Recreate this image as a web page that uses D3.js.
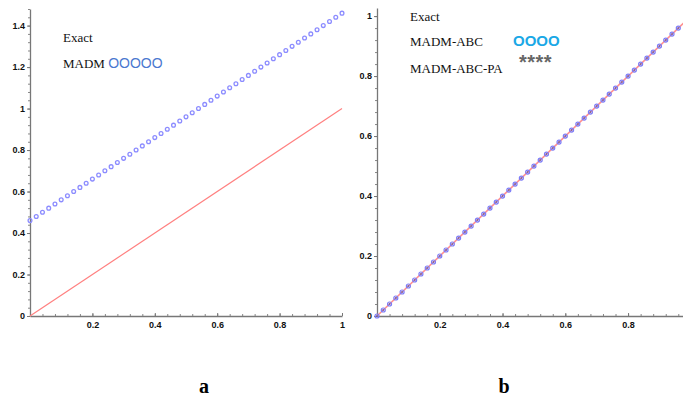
<!DOCTYPE html>
<html>
<head>
<meta charset="utf-8">
<script src="https://cdn.jsdelivr.net/npm/d3@7"></script>
<style>
  body { margin: 0; background: #fff; }
  .tick text { font-family: "Liberation Sans", Arial, sans-serif; font-weight: bold; font-size: 9px; fill: #111; }
  .lbl { font-family: "Liberation Serif", "Times New Roman", serif; font-size: 13px; fill: #111; }
</style>
</head>
<body>
<div class="chart"></div>
<script>
// panel a
let exactAX = [0, 1];
let exactAY = [0, 1];
let madmX = [0, 0.02, 0.04, 0.06, 0.08, 0.1, 0.12, 0.14, 0.16, 0.18, 0.2, 0.22, 0.24, 0.26, 0.28, 0.3, 0.32, 0.34, 0.36, 0.38,
  0.4, 0.42, 0.44, 0.46, 0.48, 0.5, 0.52, 0.54, 0.56, 0.58, 0.6, 0.62, 0.64, 0.66, 0.68, 0.7, 0.72, 0.74, 0.76, 0.78,
  0.8, 0.82, 0.84, 0.86, 0.88, 0.9, 0.92, 0.94, 0.96, 0.98, 1];
let madmY = [0.46, 0.48, 0.5, 0.52, 0.54, 0.56, 0.58, 0.6, 0.62, 0.64, 0.66, 0.68, 0.7, 0.72, 0.74, 0.76, 0.78, 0.8, 0.82, 0.84,
  0.86, 0.88, 0.9, 0.92, 0.94, 0.96, 0.98, 1, 1.02, 1.04, 1.06, 1.08, 1.1, 1.12, 1.14, 1.16, 1.18, 1.2, 1.22, 1.24,
  1.26, 1.28, 1.3, 1.32, 1.34, 1.36, 1.38, 1.4, 1.42, 1.44, 1.46];
let xTicksA = [0.2, 0.4, 0.6, 0.8, 1];
let yTicksA = [0, 0.2, 0.4, 0.6, 0.8, 1, 1.2, 1.4];

// panel b
let exactBX = [0, 1];
let exactBY = [0, 1];
let abcX = [0, 0.02, 0.04, 0.06, 0.08, 0.1, 0.12, 0.14, 0.16, 0.18, 0.2, 0.22, 0.24, 0.26, 0.28, 0.3, 0.32, 0.34, 0.36, 0.38,
  0.4, 0.42, 0.44, 0.46, 0.48, 0.5, 0.52, 0.54, 0.56, 0.58, 0.6, 0.62, 0.64, 0.66, 0.68, 0.7, 0.72, 0.74, 0.76, 0.78,
  0.8, 0.82, 0.84, 0.86, 0.88, 0.9, 0.92, 0.94, 0.96];
let abcY = [0, 0.02, 0.04, 0.06, 0.08, 0.1, 0.12, 0.14, 0.16, 0.18, 0.2, 0.22, 0.24, 0.26, 0.28, 0.3, 0.32, 0.34, 0.36, 0.38,
  0.4, 0.42, 0.44, 0.46, 0.48, 0.5, 0.52, 0.54, 0.56, 0.58, 0.6, 0.62, 0.64, 0.66, 0.68, 0.7, 0.72, 0.74, 0.76, 0.78,
  0.8, 0.82, 0.84, 0.86, 0.88, 0.9, 0.92, 0.94, 0.96];
let xTicksB = [0.2, 0.4, 0.6, 0.8];
let yTicksB = [0, 0.2, 0.4, 0.6, 0.8, 1];

let svg = d3.select('.chart').append('svg')
  .attr('width', 683)
  .attr('height', 396);

function drawAxes(x, y, xTicks, yTicks) {
  let g = svg.append('g');
  let xr = x.range(), yr = y.range();
  // minor ticks (5 subdivisions)
  let xMinor = d3.range(x.domain()[0], x.domain()[1] + 1e-9, 0.04);
  let yMinor = d3.range(y.domain()[0], y.domain()[1] + 1e-9, 0.04);
  g.append('g')
    .attr('transform', 'translate(0,' + yr[0] + ')')
    .call(d3.axisBottom(x).tickValues(xMinor).tickSize(-2).tickFormat('').tickSizeOuter(0))
    .call(a => a.select('.domain').remove())
    .selectAll('line').attr('stroke', '#888');
  g.append('g')
    .attr('transform', 'translate(' + xr[0] + ',0)')
    .call(d3.axisLeft(y).tickValues(yMinor).tickSize(2).tickFormat('').tickSizeOuter(0))
    .call(a => a.select('.domain').remove())
    .selectAll('line').attr('stroke', '#888');

  let xa = g.append('g')
    .attr('transform', 'translate(0,' + yr[0] + ')')
    .call(d3.axisBottom(x).tickValues(xTicks).tickSize(3).tickPadding(3).tickSizeOuter(0)
      .tickFormat(d => String(+d.toFixed(1))));
  xa.select('.domain').attr('stroke', '#777').attr('stroke-width', 1.3);
  xa.selectAll('.tick line').attr('stroke', '#777').attr('transform', 'translate(0,-3)');

  let ya = g.append('g')
    .attr('transform', 'translate(' + xr[0] + ',0)')
    .call(d3.axisLeft(y).tickValues(yTicks).tickSize(3).tickPadding(2).tickSizeOuter(0)
      .tickFormat(d => String(+d.toFixed(1))));
  ya.select('.domain').attr('stroke', '#777').attr('stroke-width', 1.3);
  ya.selectAll('.tick line').attr('stroke', '#777');
}

// ---- panel a ----
let xA = d3.scaleLinear().domain([0, 1]).range([30, 342]);
let yA = d3.scaleLinear().domain([0, 1.48]).range([316, 9]);
drawAxes(xA, yA, xTicksA, yTicksA);

let line = (x, y) => d3.line().x(d => x(d[0])).y(d => y(d[1]));

svg.append('path')
  .datum(d3.zip(exactAX, exactAY))
  .attr('d', line(xA, yA))
  .attr('fill', 'none')
  .attr('stroke', '#ff8080')
  .attr('stroke-width', 1.2);

svg.append('g').selectAll('circle')
  .data(d3.zip(madmX, madmY))
  .enter().append('circle')
  .attr('cx', d => xA(d[0]))
  .attr('cy', d => yA(d[1]))
  .attr('r', 1.9)
  .attr('fill', 'none')
  .attr('stroke', '#8c8cff')
  .attr('stroke-width', 1.3);

svg.append('text').attr('class', 'lbl').attr('x', 63).attr('y', 42).text('Exact');
svg.append('text').attr('class', 'lbl').attr('x', 63).attr('y', 68).text('MADM ')
  .append('tspan').attr('fill', '#4a78d0').style('font-family', '"Liberation Sans", Arial, sans-serif')
  .style('font-size', '14px').text('OOOOO');

// ---- panel b ----
let xB = d3.scaleLinear().domain([0, 0.975]).range([377, 683]);
let yB = d3.scaleLinear().domain([0, 1.027]).range([316, 8]);
drawAxes(xB, yB, xTicksB, yTicksB);

svg.append('path')
  .datum(d3.zip(exactBX, exactBY))
  .attr('d', line(xB, yB))
  .attr('fill', 'none')
  .attr('stroke', '#ff9090')
  .attr('stroke-width', 1.6);

svg.append('g').selectAll('circle')
  .data(d3.zip(abcX, abcY))
  .enter().append('circle')
  .attr('cx', d => xB(d[0]))
  .attr('cy', d => yB(d[1]))
  .attr('r', 2)
  .attr('fill', 'none')
  .attr('stroke', '#7c7cf8')
  .attr('stroke-width', 1.2);

// asterisks for MADM-ABC-PA drawn on top
svg.append('g').selectAll('path')
  .data(d3.zip(abcX, abcY))
  .enter().append('path')
  .attr('transform', d => 'translate(' + xB(d[0]) + ',' + yB(d[1]) + ')')
  .attr('d', d3.symbol(d3.symbolAsterisk, 3))
  .attr('fill', 'none')
  .attr('stroke', '#6a5a9a')
  .attr('stroke-width', 0.6);

svg.append('text').attr('class', 'lbl').attr('x', 410).attr('y', 21).text('Exact');
svg.append('text').attr('class', 'lbl').attr('x', 410).attr('y', 46).text('MADM-ABC');
svg.append('text').attr('x', 513).attr('y', 46)
  .style('font-family', '"Liberation Sans", Arial, sans-serif').style('font-size', '15px').style('font-weight', 'bold')
  .attr('fill', '#1aa8e6').text('OOOO');
svg.append('text').attr('class', 'lbl').attr('x', 410).attr('y', 73).text('MADM-ABC-PA');
svg.append('text').attr('x', 519).attr('y', 69)
  .style('font-family', '"Liberation Sans", Arial, sans-serif').style('font-size', '20px').style('font-weight', 'bold')
  .attr('fill', '#666').style('letter-spacing', '0.5px').text('****');

// panel letters
svg.append('text').attr('x', 204).attr('y', 393).attr('text-anchor', 'middle')
  .style('font-family', '"Liberation Serif", serif').style('font-size', '20px').style('font-weight', 'bold').text('a');
svg.append('text').attr('x', 504).attr('y', 393).attr('text-anchor', 'middle')
  .style('font-family', '"Liberation Serif", serif').style('font-size', '20px').style('font-weight', 'bold').text('b');
</script>
</body>
</html>
